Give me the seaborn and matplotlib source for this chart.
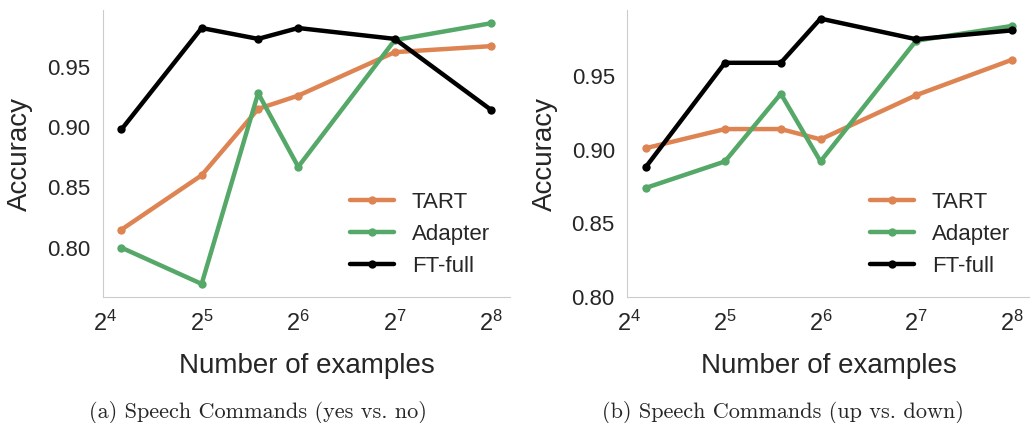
import numpy as np
import pandas as pd
import matplotlib
matplotlib.use("Agg")
import matplotlib.pyplot as plt
import seaborn as sns

# number of in-context examples
n_examples = [18, 32, 48, 64, 128, 256]
methods = ["TART", "Adapter", "FT-full"]

# (a) Speech Commands (yes vs. no)
yes_no_tart = [0.815, 0.860, 0.915, 0.926, 0.962, 0.967]
yes_no_adapter = [0.800, 0.770, 0.928, 0.867, 0.972, 0.986]
yes_no_ft = [0.898, 0.982, 0.973, 0.982, 0.973, 0.914]

# (b) Speech Commands (up vs. down)
up_down_tart = [0.901, 0.914, 0.914, 0.907, 0.937, 0.961]
up_down_adapter = [0.874, 0.892, 0.938, 0.892, 0.974, 0.984]
up_down_ft = [0.888, 0.959, 0.959, 0.989, 0.975, 0.981]

captions = ["(a) Speech Commands (yes vs. no)", "(b) Speech Commands (up vs. down)"]
palette = {"TART": "#dd8452", "Adapter": "#55a868", "FT-full": "black"}

sns.set_style("white")
plt.rcParams["font.family"] = ["Liberation Sans", "DejaVu Sans"]
plt.rcParams["axes.edgecolor"] = "#cccccc"
plt.rcParams["mathtext.fontset"] = "custom"
plt.rcParams["mathtext.rm"] = "Liberation Sans"
plt.rcParams["mathtext.it"] = "Liberation Sans:italic"
plt.rcParams["mathtext.bf"] = "Liberation Sans:bold"


def to_long(tart, adapter, ft):
    rows = []
    for name, vals in zip(methods, [tart, adapter, ft]):
        for n, v in zip(n_examples, vals):
            rows.append({"n": n, "acc": v, "method": name})
    return pd.DataFrame(rows)


panels = [
    to_long(yes_no_tart, yes_no_adapter, yes_no_ft),
    to_long(up_down_tart, up_down_adapter, up_down_ft),
]

fig = plt.figure(figsize=(10.3, 4.23), dpi=100)
ax1 = fig.add_axes([0.100, 0.298, 0.395, 0.678])
ax2 = fig.add_axes([0.609, 0.298, 0.391, 0.678])
axes = [ax1, ax2]

for i, (ax, df) in enumerate(zip(axes, panels)):
    sns.lineplot(
        data=df, x="n", y="acc", hue="method", hue_order=methods,
        palette=palette, marker="o", markersize=6, markeredgewidth=0,
        linewidth=3.2, ax=ax,
    )
    ax.set_xscale("log", base=2)
    ax.set_xticks([16, 32, 64, 128, 256])
    if i == 1:
        ax.set_ylim(bottom=0.80)
    ax.set_yticks([0.80, 0.85, 0.90, 0.95])
    ax.tick_params(axis="y", labelsize=16, length=0, pad=9)
    ax.tick_params(axis="x", labelsize=17, length=0, pad=10)
    ax.set_xlabel("Number of examples", fontsize=20, labelpad=12)
    ax.set_ylabel("Accuracy", fontsize=20, labelpad=10)
    sns.despine(ax=ax)
    ax.legend(loc="lower right", frameon=False, fontsize=16, handlelength=2.0)

fig.text(0.250, 0.026, captions[0], ha="center", va="center", fontsize=16, family="cmr10")
fig.text(0.760, 0.026, captions[1], ha="center", va="center", fontsize=16, family="cmr10")

fig.savefig("out.png", dpi=100)
